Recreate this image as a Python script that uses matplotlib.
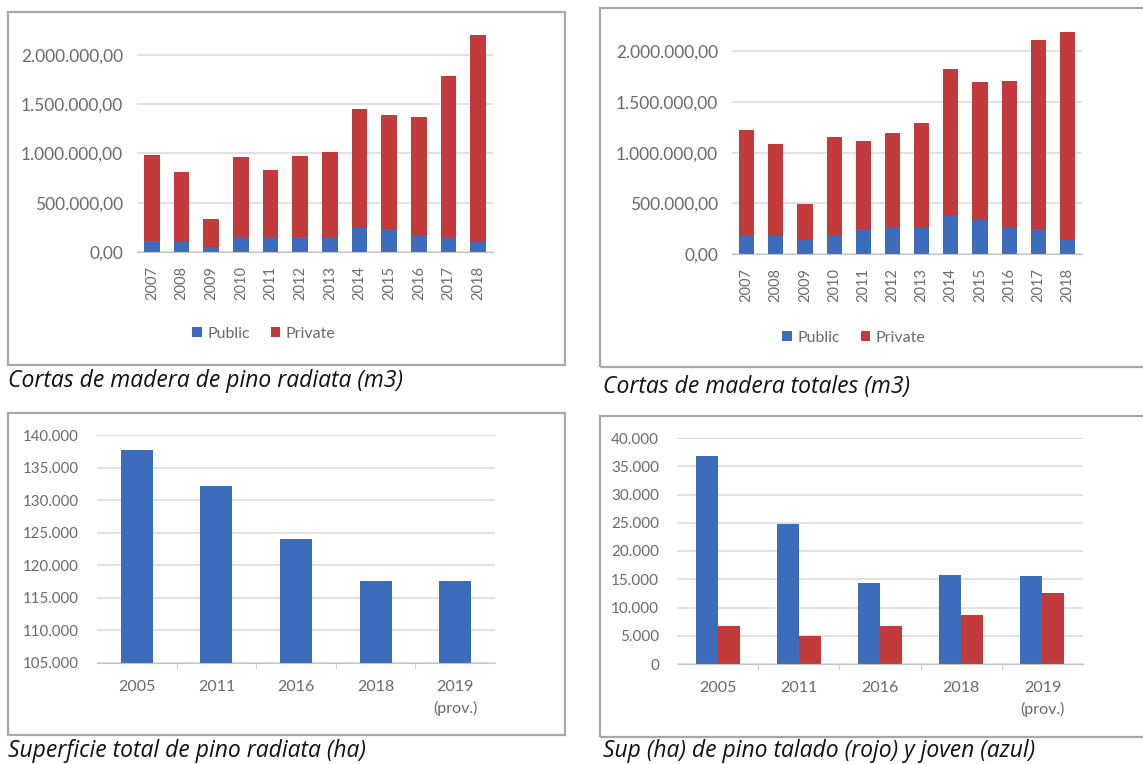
import numpy as np
import matplotlib.pyplot as plt
from matplotlib.patches import Rectangle
from matplotlib.ticker import FuncFormatter, FixedLocator

# figure size in pixels
W, H = 1143, 764

# harvested wood (m3), public part and total per year
years_cut = ['2007', '2008', '2009', '2010', '2011', '2012',
             '2013', '2014', '2015', '2016', '2017', '2018']
radiata_public = [115000, 105000, 54000, 145000, 145000, 149000,
                  145000, 247000, 236000, 162000, 145000, 105000]
radiata_total = [983000, 807000, 331000, 960000, 831000, 973000,
                 1017000, 1453000, 1385000, 1372000, 1784000, 2200000]
all_public = [191000, 181000, 135000, 191000, 247000, 253000,
              253000, 378000, 332000, 253000, 247000, 135000]
all_total = [1227000, 1089000, 497000, 1155000, 1112000, 1194000,
             1293000, 1826000, 1694000, 1711000, 2109000, 2191000]

# surface (ha)
years_area = ['2005', '2011', '2016', '2018', '2019\n(prov.)']
radiata_area = [137700, 132200, 124000, 117600, 117600]
young_area = [36800, 24700, 14300, 15800, 15600]
felled_area = [6700, 5000, 6700, 8600, 12600]

BLUE = '#3d6cbd'
RED = '#c23a3a'
GRID = '#d9d9d9'
TXT = '#6a6a6a'

plt.rcParams['font.family'] = ['Lato', 'DejaVu Sans']


def eu(v, dec=0):
    s = f"{v:,.{dec}f}"
    return s.replace(',', '#').replace('.', ',').replace('#', '.')


def px_axes(fig, x0, y0, x1, y1):
    return fig.add_axes([x0 / W, 1 - y1 / H, (x1 - x0) / W, (y1 - y0) / H])


def frame(fig, x0, y0, x1, y1):
    fig.patches.append(Rectangle((x0 / W, 1 - y1 / H), (x1 - x0) / W, (y1 - y0) / H,
                                 transform=fig.transFigure, fill=False,
                                 edgecolor='#a8a8a8', lw=1.6))


def style(ax, ypad=9, xpad=9, ysize=10.5, xsize=10.5):
    for s in ['top', 'right', 'left']:
        ax.spines[s].set_visible(False)
    ax.spines['bottom'].set_color('#c4c4c4')
    ax.yaxis.grid(True, color=GRID, lw=1.1)
    ax.set_axisbelow(True)
    ax.tick_params(axis='y', length=0, pad=ypad, labelsize=ysize, labelcolor=TXT)
    ax.tick_params(axis='x', length=0, pad=xpad, labelsize=xsize, labelcolor=TXT)


fig = plt.figure(figsize=(W / 100, H / 100), dpi=100)

frame(fig, 8, 12, 565, 365)
frame(fig, 600, 8, 1150, 367)
frame(fig, 8, 413, 565, 735)
frame(fig, 600, 416, 1150, 737)

# --- stacked bars: public / private cuts ---
def stacked(ax, public, total, legend_xy):
    x = np.arange(len(years_cut))
    private = np.array(total) - np.array(public)
    b1 = ax.bar(x, public, 0.52, color=BLUE, label='Public')
    b2 = ax.bar(x, private, 0.52, bottom=public, color=RED, label='Private')
    ax.set_xlim(-0.5, len(x) - 0.5)
    ax.set_ylim(0, 2250000)
    ax.set_yticks(np.arange(0, 2000001, 500000))
    ax.yaxis.set_major_formatter(FuncFormatter(lambda v, p: eu(v, 2)))
    ax.set_xticks(x)
    ax.set_xticklabels(years_cut, rotation=90)
    style(ax, ypad=10, xpad=10, ysize=12.5, xsize=10.5)
    fig.legend(handles=[b1, b2], loc='center',
               bbox_to_anchor=(legend_xy[0] / W, 1 - legend_xy[1] / H),
               bbox_transform=fig.transFigure, ncol=2, frameon=False,
               handlelength=0.6, handleheight=0.6, handletextpad=0.35,
               columnspacing=1.3, fontsize=11.5, labelcolor=TXT)


ax1 = px_axes(fig, 137, 30, 493, 252)
stacked(ax1, radiata_public, radiata_total, (264, 334))

ax2 = px_axes(fig, 732, 26, 1082, 254)
stacked(ax2, all_public, all_total, (854, 338))

# --- total radiata surface ---
ax3 = px_axes(fig, 97, 435, 495, 663)
x = np.arange(len(years_area))
ax3.bar(x, radiata_area, 0.4, color=BLUE)
ax3.set_xlim(-0.5, 4.5)
ax3.set_ylim(105000, 140000)
ax3.set_yticks(np.arange(105000, 140001, 5000))
ax3.yaxis.set_major_formatter(FuncFormatter(lambda v, p: eu(v)))
ax3.set_xticks(x)
ax3.set_xticklabels(years_area, linespacing=1.6)
style(ax3, ypad=13, xpad=12, ysize=10.8, xsize=11.5)
ax3.xaxis.set_minor_locator(FixedLocator(np.arange(0.5, 4, 1)))
ax3.tick_params(axis='x', which='minor', length=4, color='#c4c4c4')

# --- felled (red) and young (blue) radiata ---
ax4 = px_axes(fig, 677, 438, 1083, 664)
w = 0.27
ax4.bar(x - w / 2, young_area, w, color=BLUE)
ax4.bar(x + w / 2, felled_area, w, color=RED)
ax4.set_xlim(-0.5, 4.5)
ax4.set_ylim(0, 40000)
ax4.set_yticks(np.arange(0, 40001, 5000))
ax4.yaxis.set_major_formatter(FuncFormatter(lambda v, p: eu(v)))
ax4.set_xticks(x)
ax4.set_xticklabels(years_area, linespacing=1.6)
style(ax4, ypad=13, xpad=12, ysize=11, xsize=11.5)
ax4.xaxis.set_minor_locator(FixedLocator(np.arange(0.5, 4, 1)))
ax4.tick_params(axis='x', which='minor', length=4, color='#c4c4c4')

# captions
cap = dict(fontsize=16.5, style='italic', va='center', color='#111111',
           family=['Open Sans', 'DejaVu Sans'])
fig.text(8 / W, 1 - 381 / H, 'Cortas de madera de pino radiata (m3)', **cap)
fig.text(603 / W, 1 - 387 / H, 'Cortas de madera totales (m3)', **cap)
fig.text(8 / W, 1 - 751 / H, 'Superficie total de pino radiata (ha)', **cap)
fig.text(603 / W, 1 - 751 / H, 'Sup (ha) de pino talado (rojo) y joven (azul)', **cap)

fig.savefig('out.png', dpi=100)
